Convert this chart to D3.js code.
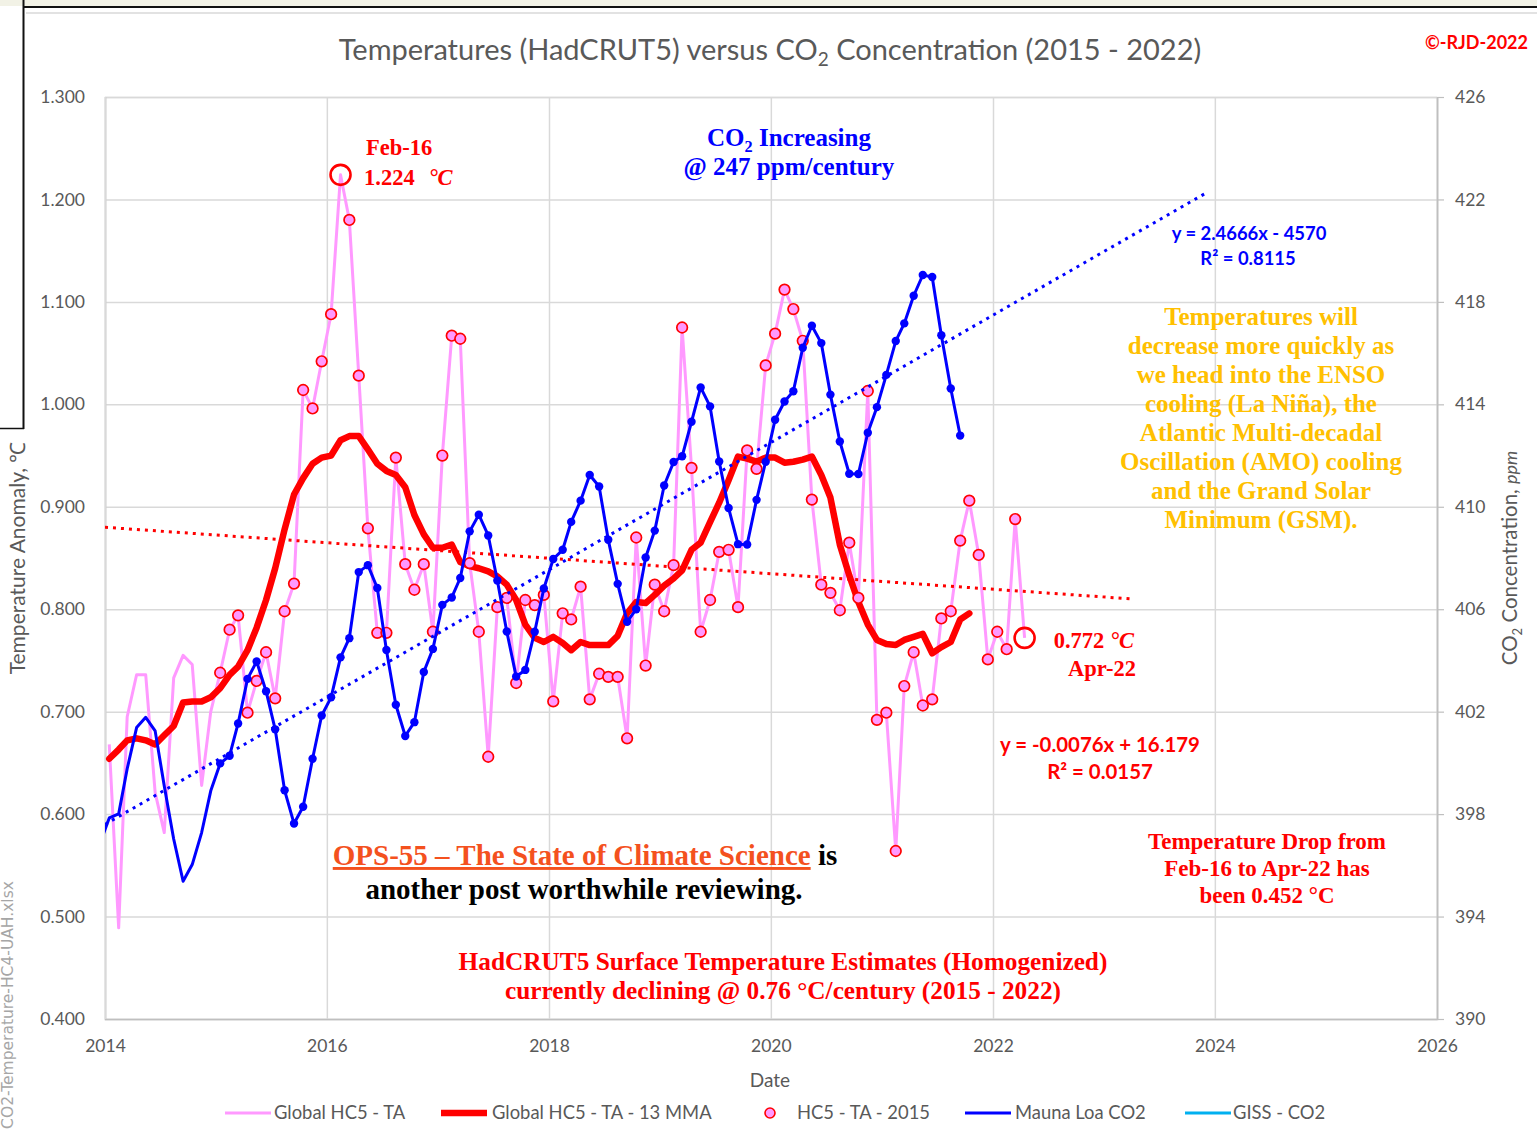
<!DOCTYPE html>
<html lang="en">
<head>
<meta charset="UTF-8">
<script src="https://d3js.org/d3.v7.min.js"></script>
<title>Temperatures (HadCRUT5) versus CO2 Concentration (2015 - 2022)</title>
<style>
  body { margin: 0; background: #fff; }
  svg { display: block; }
  .sans { font-family: Lato, "Open Sans", sans-serif; }
  .serif { font-family: "Liberation Serif", "DejaVu Serif", serif; font-weight: bold; }
  .axis text { font-family: Lato, sans-serif; font-size: 17.5px; fill: #595959; }
</style>
</head>
<body>
<svg id="chart" width="1537" height="1138"></svg>
<script>
// HadCRUT5 global monthly anomaly (degC), Jan 2014 - Apr 2022
const hc5Start = [2014, 0];
const hc5 = [
  0.668, 0.489, 0.695, 0.736, 0.736, 0.621, 0.582, 0.733, 0.755, 0.746, 0.628, 0.700,
  0.738, 0.780, 0.794, 0.699, 0.730, 0.758, 0.713, 0.798, 0.825, 1.014, 0.996, 1.042,
  1.088, 1.224, 1.180, 1.028, 0.879, 0.777, 0.777, 0.948, 0.844, 0.819, 0.844, 0.778,
  0.950, 1.067, 1.064, 0.845, 0.778, 0.656, 0.802, 0.811, 0.728, 0.809, 0.804, 0.814,
  0.710, 0.796, 0.790, 0.822, 0.712, 0.737, 0.734, 0.734, 0.674, 0.870, 0.745, 0.824,
  0.798, 0.843, 1.075, 0.938, 0.778, 0.809, 0.856, 0.858, 0.802, 0.955, 0.937, 1.038,
  1.069, 1.112, 1.093, 1.062, 0.907, 0.824, 0.816, 0.799, 0.865, 0.811, 1.013, 0.692,
  0.699, 0.564, 0.725, 0.758, 0.706, 0.712, 0.791, 0.798, 0.867, 0.906, 0.853, 0.751,
  0.778, 0.761, 0.888, 0.772
];

// 13 month moving average, Jan 2014 - Oct 2021
const mmaStart = [2014, 0];
const mma = [
  0.654, 0.663, 0.672, 0.674, 0.672, 0.668, 0.677, 0.686, 0.709, 0.710, 0.710, 0.714,
  0.723, 0.736, 0.744, 0.760, 0.782, 0.809, 0.840, 0.878, 0.912, 0.928, 0.942, 0.948,
  0.950, 0.965, 0.969, 0.969, 0.956, 0.942, 0.935, 0.931, 0.919, 0.892, 0.873, 0.860,
  0.860, 0.863, 0.846, 0.842, 0.840, 0.837, 0.832, 0.824, 0.809, 0.785, 0.772, 0.768,
  0.773, 0.767, 0.760, 0.768, 0.765, 0.765, 0.765, 0.774, 0.796, 0.807, 0.806, 0.814,
  0.823, 0.830, 0.838, 0.858, 0.865, 0.885, 0.904, 0.926, 0.949, 0.947, 0.944, 0.948,
  0.948, 0.943, 0.944, 0.946, 0.949, 0.931, 0.909, 0.863, 0.833, 0.807, 0.785, 0.770,
  0.766, 0.765, 0.770, 0.773, 0.776, 0.757, 0.763, 0.768, 0.790, 0.796
];

// Mauna Loa CO2 monthly mean (ppm), Dec 2013 - Sep 2021
const co2Start = [2013, 11];
const co2 = [
  396.84,
  397.85, 398.01, 399.77, 401.38, 401.78, 401.25, 399.10, 397.03, 395.38, 396.03, 397.28, 398.91,
  399.98, 400.28, 401.54, 403.28, 403.96, 402.80, 401.31, 398.93, 397.63, 398.29, 400.16, 401.85,
  402.56, 404.12, 404.87, 407.45, 407.72, 406.83, 404.41, 402.27, 401.05, 401.59, 403.55, 404.45,
  406.17, 406.46, 407.22, 409.04, 409.69, 408.88, 407.12, 405.13, 403.37, 403.63, 405.12, 406.81,
  407.96, 408.32, 409.41, 410.24, 411.24, 410.79, 408.71, 406.99, 405.51, 406.00, 408.02, 409.07,
  410.83, 411.75, 411.97, 413.32, 414.66, 413.92, 411.77, 409.95, 408.54, 408.53, 410.27, 411.76,
  413.40, 414.11, 414.51, 416.21, 417.07, 416.39, 414.38, 412.55, 411.29, 411.28, 412.89, 413.89,
  415.15, 416.47, 417.16, 418.24, 419.05, 418.97, 416.70, 414.62, 412.78
];

// trend lines: [decimal year, value] end points
const co2Trend = [[2014.0, 397.6], [2023.94, 422.3]];
const tempTrend = [[2014.0, 0.880], [2023.26, 0.810]];

// marked points [year, month index]
const highlights = [[2016, 1], [2022, 3]];

const tempTicks = [0.4, 0.5, 0.6, 0.7, 0.8, 0.9, 1.0, 1.1, 1.2, 1.3];
const co2Ticks = [390, 394, 398, 402, 406, 410, 414, 418, 422, 426];

const legendItems = [
  { label: "Global HC5 - TA", kind: "line", color: "#ff99ff", width: 3 },
  { label: "Global HC5 - TA - 13 MMA", kind: "line", color: "#ff0000", width: 6.5 },
  { label: "HC5 - TA - 2015", kind: "marker", color: "#ff99ff" },
  { label: "Mauna Loa CO2", kind: "line", color: "#0000ff", width: 3 },
  { label: "GISS - CO2", kind: "line", color: "#00b0f0", width: 3 }
];

// ---------- helpers
const monthDate = (y, m) => new Date(y, m, 15);
const toSeries = (start, vals) => vals.map((v, i) => ({ date: monthDate(start[0], start[1] + i), value: v }));
const yearDate = t => {
  const y = Math.floor(t);
  const a = new Date(y, 0, 1), b = new Date(y + 1, 0, 1);
  return new Date(+a + (t - y) * (b - a));
};

const hc5Data = toSeries(hc5Start, hc5);
const mmaData = toSeries(mmaStart, mma);
const co2Data = toSeries(co2Start, co2);
const hlDates = highlights.map(h => +monthDate(h[0], h[1]));
const hlData = hc5Data.filter(d => hlDates.includes(+d.date));
const markerData = hc5Data.filter(d => d.date >= new Date(2015, 0, 1) && !hlDates.includes(+d.date));
const co2Markers = co2Data.filter(d => d.date >= new Date(2015, 0, 1));

// ---------- layout
const margin = { top: 97, right: 100, bottom: 119, left: 105 };
const W = 1537, H = 1138;
const width = W - margin.left - margin.right;
const height = H - margin.top - margin.bottom;

const svg = d3.select("#chart");

// frame bits from the screenshot
svg.append("rect").attr("x", 0).attr("y", 0).attr("width", W).attr("height", 6).attr("fill", "#f2f2e6");
svg.append("line").attr("x1", 23).attr("x2", W).attr("y1", 7).attr("y2", 7).attr("stroke", "#111").attr("stroke-width", 2);
svg.append("line").attr("x1", 26).attr("x2", W).attr("y1", 13).attr("y2", 13).attr("stroke", "#d9d9d9").attr("stroke-width", 1.5);
svg.append("line").attr("x1", 23.5).attr("x2", 23.5).attr("y1", 0).attr("y2", 429).attr("stroke", "#111").attr("stroke-width", 2);
svg.append("line").attr("x1", 0).attr("x2", 24).attr("y1", 428.5).attr("y2", 428.5).attr("stroke", "#111").attr("stroke-width", 1.5);

svg.append("text")
  .attr("transform", "translate(13,1005) rotate(-90)")
  .attr("text-anchor", "middle")
  .style("font-family", "'DejaVu Sans', sans-serif").style("font-size", "15.5px").attr("fill", "#a6a6a6")
  .text("CO2-Temperature-HC4-UAH.xlsx");

const g = svg.append("g").attr("transform", `translate(${margin.left},${margin.top})`);

const x = d3.scaleTime().domain([new Date(2014, 0, 1), new Date(2026, 0, 1)]).range([0, width]);
const yT = d3.scaleLinear().domain([0.4, 1.3]).range([height, 0]);
const yC = d3.scaleLinear().domain([390, 426]).range([height, 0]);

// axes + grid
const gy = g.append("g").attr("class", "axis")
  .call(d3.axisLeft(yT).tickValues(tempTicks).tickSize(-width).tickFormat(d3.format(".3f")));
gy.select(".domain").attr("stroke", "#d9d9d9").attr("stroke-width", 1.5);
gy.selectAll(".tick line").attr("stroke", "#d9d9d9").attr("stroke-width", 1.5);
gy.selectAll(".tick text").attr("x", -20);

const gx = g.append("g").attr("class", "axis").attr("transform", `translate(0,${height})`)
  .call(d3.axisBottom(x).ticks(d3.timeYear.every(2)).tickSize(-height).tickFormat(d3.timeFormat("%Y")));
gx.select(".domain").attr("stroke", "#bfbfbf").attr("stroke-width", 1.5);
gx.selectAll(".tick line").attr("stroke", "#d9d9d9").attr("stroke-width", 1.5);
gx.selectAll(".tick text").attr("y", 27).attr("dy", "0.35em");

const gr = g.append("g").attr("class", "axis").attr("transform", `translate(${width},0)`)
  .call(d3.axisRight(yC).tickValues(co2Ticks).tickSize(7).tickSizeOuter(0));
gr.select(".domain").attr("stroke", "#bfbfbf").attr("stroke-width", 1.5);
gr.selectAll(".tick line").attr("stroke", "#bfbfbf").attr("stroke-width", 1.2);
gr.selectAll(".tick text").attr("x", 18);

// clip
g.append("clipPath").attr("id", "plot-clip").append("rect").attr("width", width).attr("height", height);
const plot = g.append("g").attr("clip-path", "url(#plot-clip)");

const lineT = d3.line().x(d => x(d.date)).y(d => yT(d.value));
const lineC = d3.line().x(d => x(d.date)).y(d => yC(d.value));

// Global HC5 - TA
plot.append("path").datum(hc5Data).attr("d", lineT)
  .attr("fill", "none").attr("stroke", "#ff99ff").attr("stroke-width", 3).attr("stroke-linejoin", "round");

// 13 MMA
plot.append("path").datum(mmaData).attr("d", lineT)
  .attr("fill", "none").attr("stroke", "#ff0000").attr("stroke-width", 6.5).attr("stroke-linejoin", "round").attr("stroke-linecap", "round");

// temperature trend (of the 2015 series)
plot.append("path").datum(tempTrend).attr("d", d3.line().x(d => x(yearDate(d[0]))).y(d => yT(d[1])))
  .attr("fill", "none").attr("stroke", "#ff0000").attr("stroke-width", 3).attr("stroke-dasharray", "3 5");

// HC5 - TA - 2015 markers
plot.selectAll("circle.hc").data(markerData).join("circle").attr("class", "hc")
  .attr("cx", d => x(d.date)).attr("cy", d => yT(d.value)).attr("r", 5.3)
  .attr("fill", "#ff99ff").attr("stroke", "#ff0000").attr("stroke-width", 1.7);

// highlighted points
plot.selectAll("circle.hl").data(hlData).join("circle").attr("class", "hl")
  .attr("cx", d => x(d.date)).attr("cy", d => yT(d.value)).attr("r", 10)
  .attr("fill", "none").attr("stroke", "#ff0000").attr("stroke-width", 2.6);

// CO2 trend
plot.append("path").datum(co2Trend).attr("d", d3.line().x(d => x(yearDate(d[0]))).y(d => yC(d[1])))
  .attr("fill", "none").attr("stroke", "#0000ff").attr("stroke-width", 3).attr("stroke-dasharray", "3 5");

// Mauna Loa CO2
plot.append("path").datum(co2Data).attr("d", lineC)
  .attr("fill", "none").attr("stroke", "#0000ff").attr("stroke-width", 3).attr("stroke-linejoin", "round");
plot.selectAll("circle.co2").data(co2Markers).join("circle").attr("class", "co2")
  .attr("cx", d => x(d.date)).attr("cy", d => yC(d.value)).attr("r", 4.2).attr("fill", "#0000ff");

// ---------- titles
const title = svg.append("text").attr("class", "sans").attr("x", 770).attr("y", 60)
  .attr("text-anchor", "middle").style("font-size", "29px").attr("fill", "#595959");
title.append("tspan").text("Temperatures (HadCRUT5) versus CO");
title.append("tspan").attr("dy", 6).style("font-size", "19px").text("2");
title.append("tspan").attr("dy", -6).text(" Concentration (2015 - 2022)");

svg.append("text").attr("class", "sans").attr("x", 1528).attr("y", 49).attr("text-anchor", "end")
  .style("font-size", "18px").style("font-weight", "bold").attr("fill", "#ff0000").text("©-RJD-2022");

svg.append("text").attr("class", "sans").attr("x", 770).attr("y", 1087).attr("text-anchor", "middle")
  .style("font-size", "19px").attr("fill", "#595959").text("Date");

svg.append("text").attr("class", "sans").attr("transform", "translate(25,558) rotate(-90)")
  .attr("text-anchor", "middle").style("font-size", "21px").attr("fill", "#595959")
  .text("Temperature Anomaly, ℃");

const rt = svg.append("text").attr("class", "sans").attr("transform", "translate(1517,558) rotate(-90)")
  .attr("text-anchor", "middle").style("font-size", "20.5px").attr("fill", "#595959");
rt.append("tspan").text("CO");
rt.append("tspan").attr("dy", 5).style("font-size", "13px").text("2");
rt.append("tspan").attr("dy", -5).text(" Concentration, ");
rt.append("tspan").style("font-style", "italic").style("font-size", "18px").text("ppm");

// ---------- legend
const legY = 1113;
const legX = [225, 441, 760, 965, 1185];
const legTextX = [274, 492, 797, 1015, 1233];
legendItems.forEach((it, i) => {
  if (it.kind === "line") {
    svg.append("line").attr("x1", legX[i]).attr("x2", legX[i] + 46).attr("y1", legY).attr("y2", legY)
      .attr("stroke", it.color).attr("stroke-width", it.width);
  } else {
    svg.append("circle").attr("cx", legX[i] + 10).attr("cy", legY).attr("r", 5)
      .attr("fill", it.color).attr("stroke", "#ff0000").attr("stroke-width", 1.6);
  }
  svg.append("text").attr("class", "sans").attr("x", legTextX[i]).attr("y", legY).attr("dy", "0.35em")
    .style("font-size", "18.4px").attr("fill", "#595959").text(it.label);
});

// ---------- annotations
function serifText(xp, yp, size, color, anchor, parts) {
  const t = svg.append("text").attr("class", "serif").attr("x", xp).attr("y", yp)
    .attr("text-anchor", anchor).style("font-size", size + "px").attr("fill", color);
  parts.forEach(p => {
    const s = t.append("tspan").text(p.t);
    if (p.dx) s.attr("dx", p.dx);
    if (p.italic) s.style("font-style", "italic");
    if (p.sub) s.attr("dy", 6).style("font-size", (size * 0.65) + "px");
    if (p.up) s.attr("dy", -6);
    if (p.fill) s.attr("fill", p.fill);
    if (p.underline) s.style("text-decoration", "underline");
  });
  return t;
}

serifText(366, 155, 22.5, "#ff0000", "start", [{ t: "Feb-16" }]);
serifText(364, 185, 22.5, "#ff0000", "start", [{ t: "1.224" }, { t: "°C", italic: true, dx: 14 }]);

serifText(789, 146, 25, "#0000ff", "middle", [{ t: "CO" }, { t: "2", sub: true }, { t: " Increasing", up: true }]);
serifText(789, 175, 25, "#0000ff", "middle", [{ t: "@ 247 ppm/century" }]);

svg.append("text").attr("class", "sans").attr("x", 1249).attr("y", 240).attr("text-anchor", "middle")
  .style("font-size", "18.4px").style("font-weight", "bold").attr("fill", "#0000ff").text("y = 2.4666x - 4570");
svg.append("text").attr("class", "sans").attr("x", 1248).attr("y", 265).attr("text-anchor", "middle")
  .style("font-size", "18.4px").style("font-weight", "bold").attr("fill", "#0000ff").text("R² = 0.8115");

const ensoLines = [
  "Temperatures will", "decrease more quickly as", "we head into the ENSO", "cooling (La Niña), the",
  "Atlantic Multi-decadal", "Oscillation (AMO) cooling", "and the Grand Solar", "Minimum (GSM)."
];
ensoLines.forEach((l, i) => serifText(1261, 325 + i * 29, 25, "#ffc000", "middle", [{ t: l }]));

serifText(1134, 648, 22.5, "#ff0000", "end", [{ t: "0.772 " }, { t: "°C", italic: true }]);
serifText(1136, 676, 22.5, "#ff0000", "end", [{ t: "Apr-22" }]);

svg.append("text").attr("class", "sans").attr("x", 1100).attr("y", 752).attr("text-anchor", "middle")
  .style("font-size", "20.4px").style("font-weight", "bold").attr("fill", "#ff0000").text("y = -0.0076x + 16.179");
svg.append("text").attr("class", "sans").attr("x", 1100).attr("y", 779).attr("text-anchor", "middle")
  .style("font-size", "20.4px").style("font-weight", "bold").attr("fill", "#ff0000").text("R² = 0.0157");

serifText(1267, 849, 23, "#ff0000", "middle", [{ t: "Temperature Drop from" }]);
serifText(1267, 876, 23, "#ff0000", "middle", [{ t: "Feb-16 to Apr-22 has" }]);
serifText(1267, 903, 23, "#ff0000", "middle", [{ t: "been 0.452 °C" }]);

serifText(585, 865, 29, "#000000", "middle", [
  { t: "OPS-55 – The State of Climate Science", fill: "#f4511e", underline: true }, { t: " is" }
]);
serifText(584, 899, 29, "#000000", "middle", [{ t: "another post worthwhile reviewing." }]);

serifText(783, 970, 25.3, "#ff0000", "middle", [{ t: "HadCRUT5 Surface Temperature Estimates (Homogenized)" }]);
serifText(783, 999, 25.3, "#ff0000", "middle", [{ t: "currently declining @ 0.76 °C/century (2015 - 2022)" }]);
</script>
</body>
</html>
